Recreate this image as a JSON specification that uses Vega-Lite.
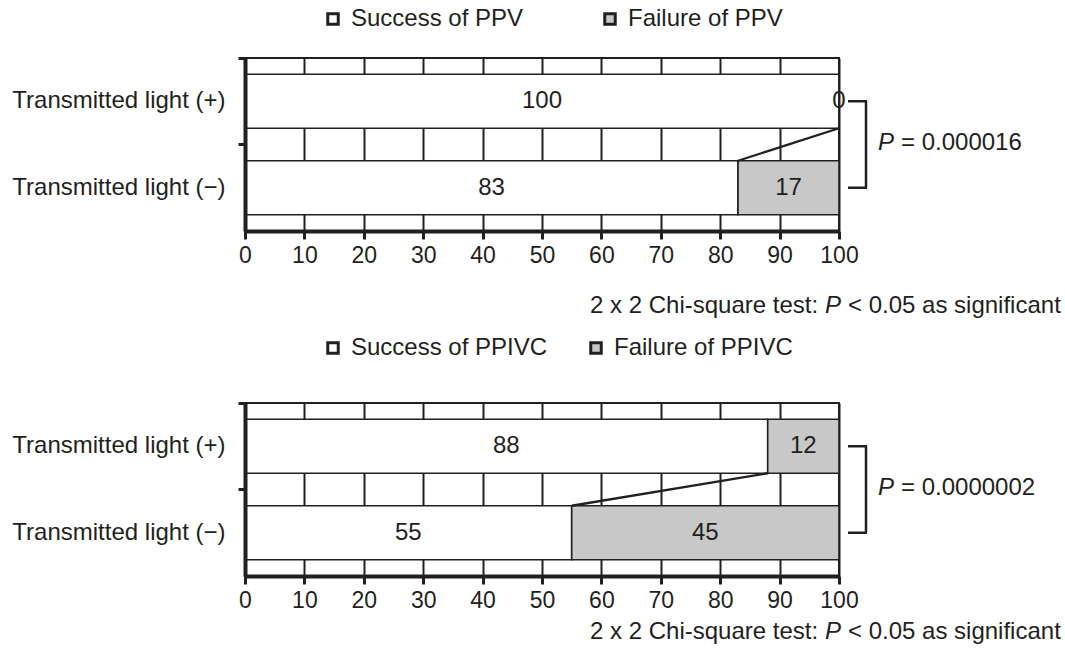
{
  "$schema": "https://vega.github.io/schema/vega-lite/v6.json",
  "padding": {"left": 10, "top": 6, "right": 5, "bottom": 5},
  "background": "white",
  "config": {
    "font": "Liberation Sans",
    "view": {"stroke": "#231f20", "strokeWidth": 2},
    "concat": {"spacing": 16},
    "text": {"font": "Liberation Sans", "fontSize": 24, "color": "#231f20"}
  },
  "datasets": {
    "bars": [
      {"panel": "PPV", "group": "Transmitted light (+)", "g": "pos", "kind": "success", "outcome": "Success of PPV", "value": 100},
      {"panel": "PPV", "group": "Transmitted light (+)", "g": "pos", "kind": "failure", "outcome": "Failure of PPV", "value": 0},
      {"panel": "PPV", "group": "Transmitted light (−)", "g": "neg", "kind": "success", "outcome": "Success of PPV", "value": 83},
      {"panel": "PPV", "group": "Transmitted light (−)", "g": "neg", "kind": "failure", "outcome": "Failure of PPV", "value": 17},
      {"panel": "PPIVC", "group": "Transmitted light (+)", "g": "pos", "kind": "success", "outcome": "Success of PPIVC", "value": 88},
      {"panel": "PPIVC", "group": "Transmitted light (+)", "g": "pos", "kind": "failure", "outcome": "Failure of PPIVC", "value": 12},
      {"panel": "PPIVC", "group": "Transmitted light (−)", "g": "neg", "kind": "success", "outcome": "Success of PPIVC", "value": 55},
      {"panel": "PPIVC", "group": "Transmitted light (−)", "g": "neg", "kind": "failure", "outcome": "Failure of PPIVC", "value": 45}
    ],
    "notes": [
      {"panel": "PPV", "pl": "P", "p": "= 0.000016", "test": "2 x 2 Chi-square test:", "rest": "< 0.05 as significant"},
      {"panel": "PPIVC", "pl": "P", "p": "= 0.0000002", "test": "2 x 2 Chi-square test:", "rest": "< 0.05 as significant"}
    ]
  },
  "vconcat": [
    {
      "width": 594,
      "height": 173,
      "data": {"name": "bars"},
      "transform": [{"filter": "datum.panel == 'PPV'"}],
      "layer": [
        {
          "transform": [{"stack": "value", "groupby": ["group"], "sort": [{"field": "kind", "order": "descending"}], "as": ["v0", "v1"]}],
          "mark": {"type": "bar", "height": {"band": 0.624}, "stroke": "#231f20", "strokeWidth": 1.6},
          "encoding": {
            "y": {"field": "group", "type": "nominal", "sort": null,
              "scale": {"domain": ["Transmitted light (+)", "Transmitted light (−)"], "paddingInner": 0, "paddingOuter": 0},
              "axis": {"title": null, "zindex": 1, "bandPosition": 0, "domainColor": "#231f20", "domainWidth": 4, "tickColor": "#231f20", "tickWidth": 3, "tickSize": 7, "labelFontSize": 24, "labelFont": "Liberation Sans", "labelColor": "#231f20", "labelPadding": 13, "labelLimit": 400, "grid": false}},
            "x": {"field": "v0", "type": "quantitative",
              "scale": {"domain": [0, 100], "nice": false, "zero": true},
              "axis": {"title": null, "values": [0, 10, 20, 30, 40, 50, 60, 70, 80, 90, 100], "grid": true, "gridColor": "#231f20", "gridWidth": 2, "domainColor": "#231f20", "domainWidth": 4, "tickColor": "#231f20", "tickWidth": 3, "tickSize": 8, "labelFontSize": 23, "labelFont": "Liberation Sans", "labelColor": "#231f20", "labelPadding": 5, "labelFlush": false, "labelOverlap": false}},
            "x2": {"field": "v1"},
            "color": {"field": "outcome", "type": "nominal", "sort": null,
              "scale": {"domain": ["Success of PPV", "Failure of PPV"], "range": ["#ffffff", "#c8c8c8"]},
              "legend": {"orient": "none", "legendX": 76, "legendY": -51, "direction": "horizontal", "title": null, "symbolType": "square", "symbolSize": 110, "symbolStrokeWidth": 3, "symbolStrokeColor": "#231f20", "labelFontSize": 24, "labelFont": "Liberation Sans", "labelColor": "#231f20", "labelOffset": 6, "columnPadding": 74, "labelLimit": 400}}
          }
        },
        {
          "transform": [
            {"stack": "value", "groupby": ["group"], "sort": [{"field": "kind", "order": "descending"}], "as": ["v0", "v1"]},
            {"calculate": "(datum.v0 + datum.v1) / 2", "as": "mid"}
          ],
          "mark": {"type": "text", "align": "center", "baseline": "middle"},
          "encoding": {
            "y": {"field": "group", "type": "nominal", "sort": null},
            "x": {"field": "mid", "type": "quantitative"},
            "text": {"field": "value", "type": "quantitative"}
          }
        },
        {
          "transform": [{"filter": "datum.kind == 'success'"}, {"pivot": "g", "value": "value", "groupby": ["panel"]}],
          "mark": {"type": "rule", "color": "#231f20", "strokeWidth": 2.3, "yOffset": 27, "y2Offset": -27},
          "encoding": {
            "x": {"field": "pos", "type": "quantitative"},
            "x2": {"field": "neg"},
            "y": {"datum": "Transmitted light (+)", "type": "nominal"},
            "y2": {"datum": "Transmitted light (−)"}
          }
        },
        {
          "transform": [{"filter": "datum.kind == 'success'"}],
          "mark": {"type": "rule", "color": "#231f20", "strokeWidth": 2.5, "xOffset": 9, "x2Offset": 28},
          "encoding": {
            "x": {"datum": 100, "type": "quantitative"},
            "x2": {"datum": 100},
            "y": {"field": "group", "type": "nominal", "sort": null}
          }
        },
        {
          "data": {"name": "notes"},
          "transform": [{"filter": "datum.panel == 'PPV'"}],
          "layer": [
            {
              "mark": {"type": "rule", "color": "#231f20", "strokeWidth": 2.5, "xOffset": 27},
              "encoding": {
                "x": {"datum": 100, "type": "quantitative"},
                "y": {"datum": "Transmitted light (+)", "type": "nominal"},
                "y2": {"datum": "Transmitted light (−)"}
              }
            },
            {
              "mark": {"type": "text", "align": "left", "baseline": "middle", "fontStyle": "italic", "dx": 39, "dy": 42},
              "encoding": {"x": {"datum": 100, "type": "quantitative"}, "y": {"datum": "Transmitted light (+)", "type": "nominal"}, "text": {"field": "pl"}}
            },
            {
              "mark": {"type": "text", "align": "left", "baseline": "middle", "dx": 62, "dy": 42},
              "encoding": {"x": {"datum": 100, "type": "quantitative"}, "y": {"datum": "Transmitted light (+)", "type": "nominal"}, "text": {"field": "p"}}
            },
            {
              "mark": {"type": "text", "align": "left", "baseline": "middle", "dx": -249, "dy": 118},
              "encoding": {"x": {"datum": 100, "type": "quantitative"}, "y": {"datum": "Transmitted light (−)", "type": "nominal"}, "text": {"field": "test"}}
            },
            {
              "mark": {"type": "text", "align": "left", "baseline": "middle", "fontStyle": "italic", "dx": -14, "dy": 118},
              "encoding": {"x": {"datum": 100, "type": "quantitative"}, "y": {"datum": "Transmitted light (−)", "type": "nominal"}, "text": {"field": "pl"}}
            },
            {
              "mark": {"type": "text", "align": "left", "baseline": "middle", "dx": 9, "dy": 118},
              "encoding": {"x": {"datum": 100, "type": "quantitative"}, "y": {"datum": "Transmitted light (−)", "type": "nominal"}, "text": {"field": "rest"}}
            }
          ]
        }
      ]
    },
    {
      "width": 594,
      "height": 173,
      "data": {"name": "bars"},
      "transform": [{"filter": "datum.panel == 'PPIVC'"}],
      "layer": [
        {
          "transform": [{"stack": "value", "groupby": ["group"], "sort": [{"field": "kind", "order": "descending"}], "as": ["v0", "v1"]}],
          "mark": {"type": "bar", "height": {"band": 0.624}, "stroke": "#231f20", "strokeWidth": 1.6},
          "encoding": {
            "y": {"field": "group", "type": "nominal", "sort": null,
              "scale": {"domain": ["Transmitted light (+)", "Transmitted light (−)"], "paddingInner": 0, "paddingOuter": 0},
              "axis": {"title": null, "zindex": 1, "bandPosition": 0, "domainColor": "#231f20", "domainWidth": 4, "tickColor": "#231f20", "tickWidth": 3, "tickSize": 7, "labelFontSize": 24, "labelFont": "Liberation Sans", "labelColor": "#231f20", "labelPadding": 13, "labelLimit": 400, "grid": false}},
            "x": {"field": "v0", "type": "quantitative",
              "scale": {"domain": [0, 100], "nice": false, "zero": true},
              "axis": {"title": null, "values": [0, 10, 20, 30, 40, 50, 60, 70, 80, 90, 100], "grid": true, "gridColor": "#231f20", "gridWidth": 2, "domainColor": "#231f20", "domainWidth": 4, "tickColor": "#231f20", "tickWidth": 3, "tickSize": 8, "labelFontSize": 23, "labelFont": "Liberation Sans", "labelColor": "#231f20", "labelPadding": 5, "labelFlush": false, "labelOverlap": false}},
            "x2": {"field": "v1"},
            "color": {"field": "outcome", "type": "nominal", "sort": null,
              "scale": {"domain": ["Success of PPIVC", "Failure of PPIVC"], "range": ["#ffffff", "#c8c8c8"]},
              "legend": {"orient": "none", "legendX": 76, "legendY": -67, "direction": "horizontal", "title": null, "symbolType": "square", "symbolSize": 110, "symbolStrokeWidth": 3, "symbolStrokeColor": "#231f20", "labelFontSize": 24, "labelFont": "Liberation Sans", "labelColor": "#231f20", "labelOffset": 6, "columnPadding": 36, "labelLimit": 400}}
          }
        },
        {
          "transform": [
            {"stack": "value", "groupby": ["group"], "sort": [{"field": "kind", "order": "descending"}], "as": ["v0", "v1"]},
            {"calculate": "(datum.v0 + datum.v1) / 2", "as": "mid"}
          ],
          "mark": {"type": "text", "align": "center", "baseline": "middle"},
          "encoding": {
            "y": {"field": "group", "type": "nominal", "sort": null},
            "x": {"field": "mid", "type": "quantitative"},
            "text": {"field": "value", "type": "quantitative"}
          }
        },
        {
          "transform": [{"filter": "datum.kind == 'success'"}, {"pivot": "g", "value": "value", "groupby": ["panel"]}],
          "mark": {"type": "rule", "color": "#231f20", "strokeWidth": 2.3, "yOffset": 27, "y2Offset": -27},
          "encoding": {
            "x": {"field": "pos", "type": "quantitative"},
            "x2": {"field": "neg"},
            "y": {"datum": "Transmitted light (+)", "type": "nominal"},
            "y2": {"datum": "Transmitted light (−)"}
          }
        },
        {
          "transform": [{"filter": "datum.kind == 'success'"}],
          "mark": {"type": "rule", "color": "#231f20", "strokeWidth": 2.5, "xOffset": 9, "x2Offset": 28},
          "encoding": {
            "x": {"datum": 100, "type": "quantitative"},
            "x2": {"datum": 100},
            "y": {"field": "group", "type": "nominal", "sort": null}
          }
        },
        {
          "data": {"name": "notes"},
          "transform": [{"filter": "datum.panel == 'PPIVC'"}],
          "layer": [
            {
              "mark": {"type": "rule", "color": "#231f20", "strokeWidth": 2.5, "xOffset": 27},
              "encoding": {
                "x": {"datum": 100, "type": "quantitative"},
                "y": {"datum": "Transmitted light (+)", "type": "nominal"},
                "y2": {"datum": "Transmitted light (−)"}
              }
            },
            {
              "mark": {"type": "text", "align": "left", "baseline": "middle", "fontStyle": "italic", "dx": 39, "dy": 42},
              "encoding": {"x": {"datum": 100, "type": "quantitative"}, "y": {"datum": "Transmitted light (+)", "type": "nominal"}, "text": {"field": "pl"}}
            },
            {
              "mark": {"type": "text", "align": "left", "baseline": "middle", "dx": 62, "dy": 42},
              "encoding": {"x": {"datum": 100, "type": "quantitative"}, "y": {"datum": "Transmitted light (+)", "type": "nominal"}, "text": {"field": "p"}}
            },
            {
              "mark": {"type": "text", "align": "left", "baseline": "middle", "dx": -249, "dy": 99},
              "encoding": {"x": {"datum": 100, "type": "quantitative"}, "y": {"datum": "Transmitted light (−)", "type": "nominal"}, "text": {"field": "test"}}
            },
            {
              "mark": {"type": "text", "align": "left", "baseline": "middle", "fontStyle": "italic", "dx": -14, "dy": 99},
              "encoding": {"x": {"datum": 100, "type": "quantitative"}, "y": {"datum": "Transmitted light (−)", "type": "nominal"}, "text": {"field": "pl"}}
            },
            {
              "mark": {"type": "text", "align": "left", "baseline": "middle", "dx": 9, "dy": 99},
              "encoding": {"x": {"datum": 100, "type": "quantitative"}, "y": {"datum": "Transmitted light (−)", "type": "nominal"}, "text": {"field": "rest"}}
            }
          ]
        }
      ]
    }
  ],
  "resolve": {"scale": {"color": "independent", "x": "independent", "y": "independent"}, "legend": {"color": "independent"}}
}
